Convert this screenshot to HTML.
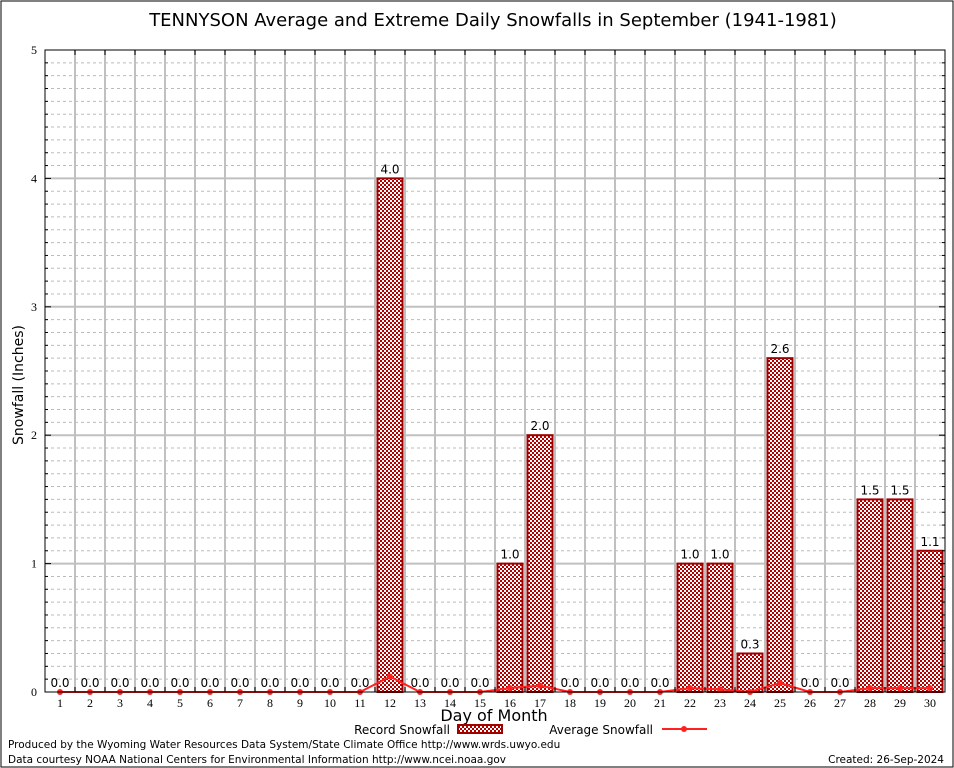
<!DOCTYPE html>
<html><head><meta charset="utf-8"><style>
html,body{margin:0;padding:0;background:#fff;}
svg{display:block;font-family:"DejaVu Sans","Liberation Sans",sans-serif;}
</style></head><body>
<svg id="chart" width="954" height="768" viewBox="0 0 954 768">
<defs>
<pattern id="chk" width="4" height="4" patternUnits="userSpaceOnUse">
<rect width="4" height="4" fill="#fff"/>
<rect width="2" height="2" fill="#b00000"/>
<rect x="2" y="2" width="2" height="2" fill="#b00000"/>
</pattern>
</defs>
<rect x="1" y="1" width="952" height="766" fill="#fff" stroke="#000" stroke-width="1"/>
<text x="493" y="26" font-size="18" text-anchor="middle">TENNYSON Average and Extreme Daily Snowfalls in September (1941-1981)</text>
<g id="grid"></g>
<g id="bars"></g>
<g id="avg"></g>
<rect x="45" y="50" width="900" height="642" fill="none" stroke="#000" stroke-width="1"/>
<g id="ticks"></g>
<text transform="translate(23,385) rotate(-90)" font-size="14" text-anchor="middle">Snowfall (Inches)</text>
<text x="494" y="721" font-size="16" text-anchor="middle">Day of Month</text>
<g>
<text x="450" y="734" font-size="12" text-anchor="end">Record Snowfall</text>
<rect x="458" y="725" width="44" height="8" fill="url(#chk)" stroke="#a00000" stroke-width="2"/>
</g>
<g>
<text x="653" y="734" font-size="12" text-anchor="end">Average Snowfall</text>
<line x1="662" y1="729" x2="707" y2="729" stroke="#ff2020" stroke-width="2"/>
<circle cx="684" cy="729" r="3" fill="#ff2020"/>
</g>
<text x="8" y="748" font-size="10.5">Produced by the Wyoming Water Resources Data System/State Climate Office http://www.wrds.uwyo.edu</text>
<text x="8" y="763" font-size="10.5">Data courtesy NOAA National Centers for Environmental Information http://www.ncei.noaa.gov</text>
<text x="944" y="763" font-size="10.5" text-anchor="end">Created: 26-Sep-2024</text>
</svg>
<script>
const days=[1,2,3,4,5,6,7,8,9,10,11,12,13,14,15,16,17,18,19,20,21,22,23,24,25,26,27,28,29,30];
const recordValues=[0,0,0,0,0,0,0,0,0,0,0,4.0,0,0,0,1.0,2.0,0,0,0,0,1.0,1.0,0.3,2.6,0,0,1.5,1.5,1.1];
const averageValues=[0,0,0,0,0,0,0,0,0,0,0,0.12,0,0,0,0.03,0.05,0,0,0,0,0.03,0.02,0,0.07,0,0,0.03,0.03,0.03];
const yTicks=[0,1,2,3,4,5];
const NS="http://www.w3.org/2000/svg";
const X0=45,X1=945,Y0=692,Y1=50,YMAX=5;
function x(d){return X0+(d-0.5)*(X1-X0)/30;}
function y(v){return Y0-v*(Y0-Y1)/YMAX;}
function mk(tag,attrs,parent){const e=document.createElementNS(NS,tag);for(const k in attrs)e.setAttribute(k,attrs[k]);parent.appendChild(e);return e;}
const grid=document.getElementById('grid'),bars=document.getElementById('bars'),avg=document.getElementById('avg'),ticks=document.getElementById('ticks');
for(let m=1;m<50;m++){if(m%10===0)continue;const v=m/10;
 const l=mk('line',{x1:X0,x2:X1,y1:y(v),y2:y(v),stroke:'#bbb','stroke-dasharray':'3,3','stroke-width':1},grid);
 
 }
for(let i=1;i<30;i++){const xx=X0+i*30;
 const l=mk('line',{x1:xx,x2:xx,y1:Y1,y2:Y0,stroke:'#c0c0c0','stroke-width':2},grid);
 
 
 mk('line',{x1:xx,x2:xx,y1:Y1,y2:Y1+5,stroke:'#000'},ticks);
 mk('line',{x1:xx,x2:xx,y1:Y0,y2:Y0-5,stroke:'#000'},ticks);}
yTicks.forEach(v=>{
 if(v>0&&v<5){const l=mk('line',{x1:X0,x2:X1,y1:y(v),y2:y(v),stroke:'#c0c0c0','stroke-width':2},grid);
 
 }
 const t=mk('text',{x:37,y:y(v)+4,'font-size':12,'text-anchor':'end','font-family':'Liberation Serif, serif'},ticks);t.textContent=v;
 
 
 mk('line',{x1:X0,x2:X0+6,y1:y(v),y2:y(v),stroke:'#000'},ticks);
 mk('line',{x1:X1,x2:X1-6,y1:y(v),y2:y(v),stroke:'#000'},ticks);
});
for(let m=1;m<50;m++){if(m%10===0)continue;const v=m/10;
 mk('line',{x1:X0,x2:X0+3,y1:y(v),y2:y(v),stroke:'#000'},ticks);
 mk('line',{x1:X1,x2:X1-3,y1:y(v),y2:y(v),stroke:'#000'},ticks);}
days.forEach((d,i)=>{
 const v=recordValues[i];
 if(v>0){const r=mk('rect',{x:x(d)-12.5,y:y(v),width:25,height:Y0-y(v),fill:'url(#chk)',stroke:'#a00000','stroke-width':2},bars);
 
 }
 const t=mk('text',{x:x(d),y:y(v)-5,'font-size':12,'text-anchor':'middle'},bars);t.textContent=v.toFixed(1);
 
 
 const xl=mk('text',{x:x(d),y:707,'font-size':12,'text-anchor':'middle','font-family':'Liberation Serif, serif'},ticks);xl.textContent=d;
 
 
});
const pts=days.map((d,i)=>x(d)+','+y(averageValues[i])).join(' ');
const pl=mk('polyline',{points:pts,fill:'none',stroke:'#ff2020','stroke-width':2},avg);


days.forEach((d,i)=>{const c=mk('circle',{cx:x(d),cy:y(averageValues[i]),r:3,fill:'#ff2020'},avg);
 
 });
</script>
</body></html>
